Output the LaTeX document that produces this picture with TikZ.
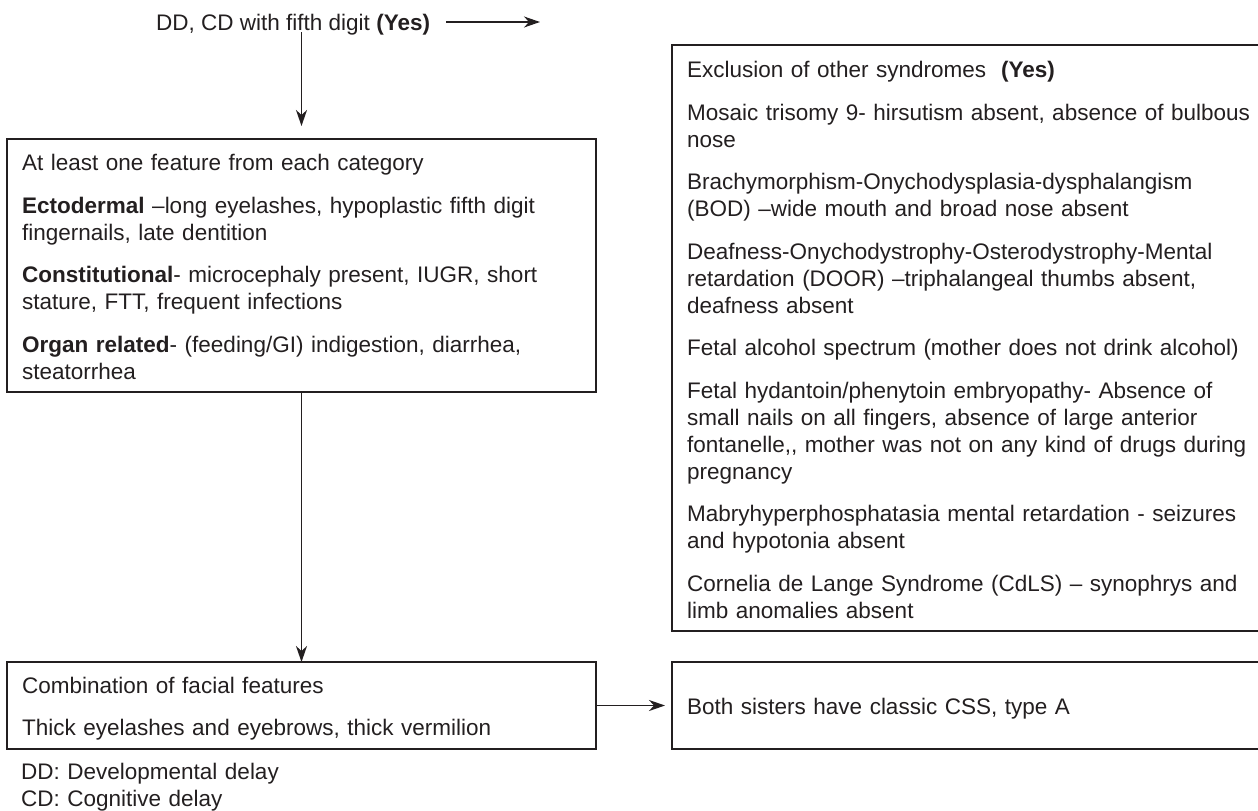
\documentclass[tikz,border=0pt]{standalone}
\usepackage{fontspec}
\setmainfont{Liberation Sans}
\usetikzlibrary{arrows.meta}
\definecolor{ink}{HTML}{231F20}
\begin{document}
\begin{tikzpicture}[x=1pt,y=-1pt,
  box/.style={draw=ink,line width=2.4pt,inner sep=0pt,outer sep=0pt},
  txt/.style={inner sep=0pt,anchor=north west,align=left,text=ink,
    font=\fontsize{22.5}{27}\selectfont},
  conn/.style={draw=ink,line width=1.5pt,-{Stealth[length=16pt,width=11pt,inset=5pt]}}]
\useasboundingbox (0,0) rectangle (1258,811);
% boxes
\node[box,minimum width=589pt,minimum height=253pt] (b1) at (301.5,265.5) {};
\node[box,minimum width=598pt,minimum height=586pt] (b2) at (971,338) {};
\node[box,minimum width=589pt,minimum height=87pt] (b3) at (301.5,705.5) {};
\node[box,minimum width=598pt,minimum height=87pt] (b4) at (971,705.5) {};
% texts
\node[txt] (t0) at (156,11.6) {\strut DD, CD with fifth digit \textbf{(Yes)}};
\node[txt,text width=570pt] (t1) at (22,151.6) {\strut At least one feature from each category\\[15.5pt]
\textbf{Ectodermal} –long eyelashes, hypoplastic fifth digit\\ fingernails, late dentition\\[15.5pt]
\textbf{Constitutional}- microcephaly present, IUGR, short\\ stature, FTT, frequent infections\\[15.5pt]
\textbf{Organ related}- (feeding/GI) indigestion, diarrhea,\\ steatorrhea};
\node[txt,text width=600pt] (t2) at (687,58.6) {\strut Exclusion of other syndromes \ \textbf{(Yes)}\\[15.5pt]
Mosaic trisomy 9- hirsutism absent, absence of bulbous\\ nose\\[15.5pt]
Brachymorphism-Onychodysplasia-dysphalangism\\ (BOD) –wide mouth and broad nose absent\\[15.5pt]
Deafness-Onychodystrophy-Osterodystrophy-Mental\\ retardation (DOOR) –triphalangeal thumbs absent,\\ deafness absent\\[15.5pt]
Fetal alcohol spectrum (mother does not drink alcohol)\\[15.5pt]
Fetal hydantoin/phenytoin embryopathy- Absence of\\ small nails on all fingers, absence of large anterior\\ fontanelle,{},\ mother was not on any kind of drugs during\\ pregnancy\\[15.5pt]
Mabryhyperphosphatasia mental retardation - seizures\\ and hypotonia absent\\[15.5pt]
Cornelia de Lange Syndrome (CdLS) – synophrys and\\ limb anomalies absent};
\node[txt,text width=570pt] (t3) at (22,674.6) {\strut Combination of facial features\\[15pt]
Thick eyelashes and eyebrows, thick vermilion};
\node[txt,text width=570pt] (t4) at (687,695.6) {\strut Both sisters have classic CSS, type A};
\node[txt,text width=570pt] (t5) at (21,760.6) {\strut DD: Developmental delay\\ CD: Cognitive delay};
% connectors
\coordinate (topEnd) at (540,22);
\coordinate (vStart) at (301.5,32);
\draw[conn] (446,22) -- (topEnd);
\draw[conn] (vStart) -- ([yshift=13pt]b1.north);
\draw[conn] (b1.south) -- (b3.north);
\draw[conn] (b3.east) -- ([xshift=-7pt]b4.west);
\end{tikzpicture}
\end{document}
